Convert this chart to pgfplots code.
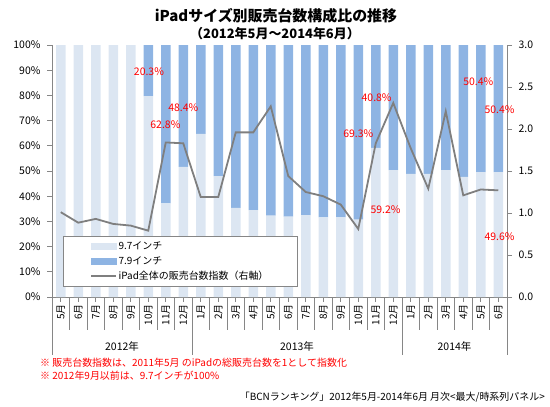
\documentclass[border=0pt]{standalone}
\usepackage{fontspec}
\setmainfont{Noto Sans CJK JP}
\usepackage{pgfplots}
\usepackage{pgfplotstable}
\pgfplotsset{compat=1.18}
\definecolor{c97}{HTML}{DCE6F2}
\definecolor{c79}{HTML}{8EB4E3}
\definecolor{cl}{HTML}{7F7F7F}
\definecolor{ax}{HTML}{868686}
\definecolor{rd}{HTML}{FF0000}
\tikzset{lab/.style={text=rd, font=\fontsize{10.5}{12}\selectfont}}
\pgfplotsset{
  legA/.style={legend image code/.code={\fill[c97] (0bp,-3bp) rectangle (25bp,3bp);}},
  legB/.style={legend image code/.code={\fill[c79] (0bp,-3bp) rectangle (25bp,3bp);}},
  legC/.style={legend image code/.code={\draw[cl, line width=1.8bp] (0bp,0bp) -- (25bp,0bp);}},
}
\pgfplotstableread{
x a b l
0 100 0 1.01
1 100 0 0.885
2 100 0 0.93
3 100 0 0.87
4 100 0 0.85
5 79.7 20.3 0.79
6 37.2 62.8 1.84
7 51.6 48.4 1.83
8 64.7 35.3 1.19
9 48.0 52.0 1.19
10 35.4 64.6 1.96
11 34.5 65.5 1.96
12 32.3 67.7 2.27
13 31.9 68.1 1.44
14 32.5 67.5 1.25
15 31.6 68.4 1.20
16 31.6 68.4 1.10
17 30.7 69.3 0.81
18 59.2 40.8 1.83
19 50.4 49.6 2.31
20 48.9 51.1 1.77
21 48.9 51.1 1.29
22 50.4 49.6 2.21
23 47.7 52.3 1.21
24 49.6 50.4 1.28
25 49.6 50.4 1.27
}\data
\begin{document}
\begin{tikzpicture}[x=1bp,y=1bp]
\path[use as bounding box] (0,0) rectangle (550,-406);
\begin{axis}[
  at={(52bp,-297bp)}, anchor=south west,
  scale only axis, width=455bp, height=252bp,
  xmin=-0.5, xmax=25.5, ymin=0, ymax=100,
  enlargelimits=false, clip=false,
  axis x line*=bottom, axis y line*=left,
  axis line style={-, ax, line width=0.8bp},
  ybar stacked, bar width=9.5bp,
  xtick={0,...,25},
  xticklabels={5月,6月,7月,8月,9月,10月,11月,12月,1月,2月,3月,4月,5月,6月,7月,8月,9月,10月,11月,12月,1月,2月,3月,4月,5月,6月},
  x tick label style={rotate=90, anchor=east, font=\fontsize{10}{11}\selectfont, inner sep=2bp},
  ytick={0,10,...,100},
  tick style={ax, line width=0.8bp},
  tick align=outside, major tick length=5bp,
  yticklabel={\pgfmathprintnumber{\tick}\%},
  y tick label style={font=\fontsize{10.5}{12}\selectfont, xshift=-3bp},
  /pgf/number format/assume math mode=true,
  legend style={at={(0.024,0.242)}, anchor=north west, draw=ax, fill=white,
    font=\fontsize{10}{12}\selectfont, minimum width=234bp, minimum height=50bp,
    nodes={inner sep=1.5bp, text height=9bp, text depth=3bp, minimum width=0pt, minimum height=0pt}},
  legend cell align=left,
]
\addplot[fill=c97, draw=none, forget plot] table[x=x,y=a]{\data};
\addplot[fill=c79, draw=none, forget plot] table[x=x,y=b]{\data};
\addlegendimage{legA}
\addlegendentry{9.7インチ}
\addlegendimage{legB}
\addlegendentry{7.9インチ}
\addlegendimage{legC}
\addlegendentry{iPad全体の販売台数指数（右軸）}
\end{axis}
\begin{axis}[
  at={(52bp,-297bp)}, anchor=south west,
  scale only axis, width=455bp, height=252bp,
  xmin=-0.5, xmax=25.5, ymin=0, ymax=3,
  enlargelimits=false, clip=false,
  axis x line=none, axis y line*=right,
  axis line style={-, ax, line width=0.8bp},
  ytick={0,0.5,...,3},
  tick style={ax, line width=0.8bp},
  tick align=outside, major tick length=5bp,
  y tick label style={/pgf/number format/fixed, /pgf/number format/fixed zerofill, /pgf/number format/precision=1, font=\fontsize{10.5}{12}\selectfont, xshift=3bp},
  /pgf/number format/assume math mode=true,
]
\addplot[cl, line width=1.8bp, mark=none] table[x=x,y=l]{\data};
% percentage labels (y in % of left axis, times 0.03)
\node[lab] at (axis cs:5.04,2.682) {20.3\%};
\node[lab] at (axis cs:5.98,2.049) {62.8\%};
\node[lab] at (axis cs:7.0,2.259) {48.4\%};
\node[lab] at (axis cs:17.0,1.941) {69.3\%};
\node[lab] at (axis cs:18.05,2.376) {40.8\%};
\node[lab] at (axis cs:18.56,1.035) {59.2\%};
\node[lab] at (axis cs:23.86,2.562) {50.4\%};
\node[lab] at (axis cs:25.07,2.226) {50.4\%};
\node[lab] at (axis cs:25.07,0.717) {49.6\%};
\end{axis}
\foreach \k in {1,...,7,9,10,...,19,21,22,...,25} {
  \draw[ax, line width=0.8bp] ({52+17.5*\k},-297) -- ({52+17.5*\k},-330);
}
\foreach \k in {0,8,20,26} {
  \draw[ax, line width=0.8bp] ({52+17.5*\k},-297) -- ({52+17.5*\k},-355);
}
\node[font=\fontsize{10.5}{12}\selectfont] at (122,-346) {2012年};
\node[font=\fontsize{10.5}{12}\selectfont] at (297,-346) {2013年};
\node[font=\fontsize{10.5}{12}\selectfont] at (454.5,-346) {2014年};
\node[font=\bfseries\fontsize{15}{17}\selectfont] at (276,-15.5) {iPadサイズ別販売台数構成比の推移};
\node[font=\bfseries\fontsize{13}{15}\selectfont] at (275,-33.5) {（2012年5月～2014年6月）};
\node[anchor=west, text=rd, font=\fontsize{10}{12}\selectfont, inner sep=0] at (40,-363) {※ 販売台数指数は、2011年5月 のiPadの総販売台数を1として指数化};
\node[anchor=west, text=rd, font=\fontsize{10}{12}\selectfont, inner sep=0] at (40,-376) {※ 2012年9月以前は、9.7インチが100\%};
\node[anchor=east, font=\fontsize{10}{12}\selectfont, inner sep=0] at (545,-397) {「BCNランキング」2012年5月-2014年6月 月次<最大/時系列パネル>};
\end{tikzpicture}
\end{document}
